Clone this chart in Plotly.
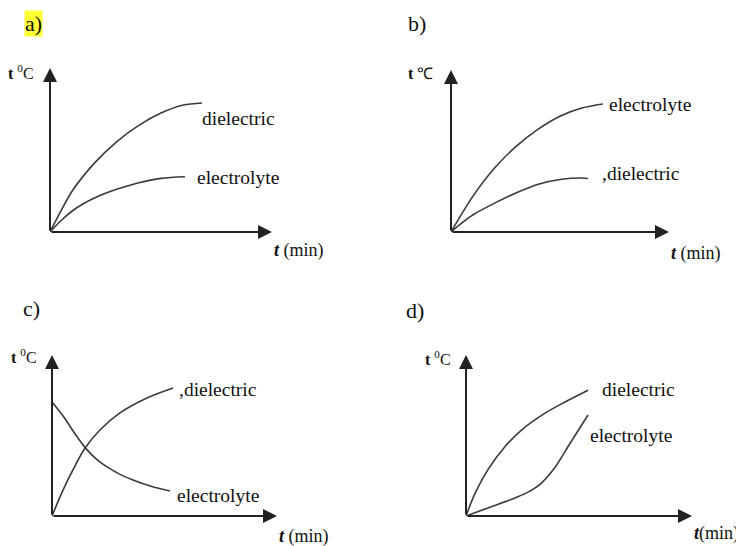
import plotly.graph_objects as go

# curves, time (min) vs temperature, arbitrary units 0..10
a_diel_t = [0, 0.5, 1, 2, 3, 4, 5, 6, 6.85]
a_diel_T = [0, 1.3, 2.5, 4.2, 5.5, 6.5, 7.25, 7.74, 7.87]
a_elec_t = [0, 0.5, 1, 1.5, 2, 2.5, 3, 4, 5, 6.08]
a_elec_T = [0, 0.7, 1.28, 1.72, 2.07, 2.36, 2.6, 3.0, 3.27, 3.37]

b_elec_t = [0, 1, 2, 3, 4, 5, 6, 6.97]
b_elec_T = [0, 2.2, 3.95, 5.3, 6.35, 7.15, 7.65, 7.9]
b_diel_t = [0, 0.5, 1, 2, 3, 4, 5, 6, 6.28]
b_diel_T = [0, 0.56, 1.05, 1.78, 2.42, 2.95, 3.24, 3.33, 3.3]

c_elec_t = [0, 0.5, 1, 1.5, 2, 2.5, 3, 3.6, 4.4, 5.24]
c_elec_T = [7.08, 6.2, 5.15, 4.2, 3.5, 3.0, 2.6, 2.24, 1.85, 1.55]
c_diel_t = [0, 0.49, 0.93, 1.47, 2.13, 3.02, 4.22, 5.38]
c_diel_T = [0, 1.61, 2.86, 4.22, 5.34, 6.4, 7.33, 7.95]

d_diel_t = [0, 0.4, 0.97, 1.73, 2.48, 3.5, 4.38, 5.4]
d_diel_T = [0, 1.4, 2.88, 4.32, 5.37, 6.39, 7.08, 7.81]
d_elec_t = [0, 1, 2, 2.7, 3.3, 3.9, 4.6, 5.4]
d_elec_T = [0, 0.52, 1.03, 1.45, 2.0, 2.95, 4.5, 6.27]

OFF = 8  # page body margin
W, H = 744 - OFF, 546 - OFF
SERIF = "Liberation Serif"
INK = "#222"


def px(x):
    return (x - OFF) / W


def py(y):
    return 1 - (y - OFF) / H


# origin and arrow tips of each panel, in window pixels
panels = [
    dict(o=(50, 232), tx=272, ty=68, letter="a)", lpos=(34, 23), hl=True, ylab="<b>t</b> <sup>0</sup>C",
         curves=[(a_diel_t, a_diel_T), (a_elec_t, a_elec_T)],
         labels=[("dielectric", 6.76, 6.95), ("electrolyte", 6.53, 3.35)],
         ylabpos=(36, 72), tmin_y=250, tmin="<b><i>t</i></b> (min)"),
    dict(o=(451, 232), tx=669, ty=70, letter="b)", lpos=(417, 23), hl=False, ylab="<b>t</b> ℃",
         curves=[(b_elec_t, b_elec_T), (b_diel_t, b_diel_T)],
         labels=[("electrolyte", 7.16, 7.9), (",dielectric", 6.83, 3.64)],
         ylabpos=(435, 73), tmin_y=253, tmin="<b><i>t</i></b> (min)"),
    dict(o=(52, 516), tx=277, ty=355, letter="c)", lpos=(31, 308), hl=False, ylab="<b>t</b> <sup>0</sup>C",
         curves=[(c_elec_t, c_elec_T), (c_diel_t, c_diel_T)],
         labels=[(",dielectric", 5.56, 7.83), ("electrolyte", 5.47, 1.3)],
         ylabpos=(39, 356), tmin_y=536, tmin="<b><i>t</i></b> (min)"),
    dict(o=(466, 516), tx=692, ty=355, letter="d)", lpos=(415, 310), hl=False, ylab="<b>t</b> <sup>0</sup>C",
         curves=[(d_diel_t, d_diel_T), (d_elec_t, d_elec_T)],
         labels=[("dielectric", 5.93, 7.83), ("electrolyte", 5.4, 4.97)],
         ylabpos=(453, 358), tmin_y=533, tmin="<b><i>t</i></b>(min)"),
]

fig = go.Figure()
annotations = []
layout = {}

for i, p in enumerate(panels):
    n = "" if i == 0 else str(i + 1)
    xa, ya = "x" + n, "y" + n
    ox, oy = p["o"]
    layout["xaxis" + n] = dict(domain=[px(ox), px(p["tx"])], range=[0, 10], visible=False, anchor=ya)
    layout["yaxis" + n] = dict(domain=[py(oy), py(p["ty"])], range=[0, 10], visible=False, anchor=xa)

    for t, T in p["curves"]:
        fig.add_trace(go.Scatter(x=t, y=T, mode="lines",
                                 line=dict(color="#3a3a3a", width=1.6, shape="spline", smoothing=0.9),
                                 xaxis=xa, yaxis=ya, showlegend=False, hoverinfo="skip"))

    # axes drawn as arrows from the origin
    for tip in [(0, 10), (10, 0)]:
        annotations.append(dict(x=tip[0], y=tip[1], ax=0, ay=0, xref=xa, yref=ya, axref=xa, ayref=ya,
                                text="", showarrow=True, arrowhead=2, arrowsize=1.4, arrowwidth=2,
                                arrowcolor=INK))

    for txt, lx, ly in p["labels"]:
        annotations.append(dict(x=lx, y=ly, xref=xa, yref=ya, text=txt, showarrow=False,
                                xanchor="left", yanchor="middle",
                                font=dict(family=SERIF, size=19.5, color="#111")))

    annotations.append(dict(x=px(p["ylabpos"][0]), y=py(p["ylabpos"][1]), xref="paper", yref="paper",
                            text=p["ylab"], showarrow=False, xanchor="right", yanchor="middle",
                            font=dict(family=SERIF, size=16, color="#111")))
    annotations.append(dict(x=px(p["tx"]), y=py(p["tmin_y"]), xref="paper", yref="paper",
                            text=p["tmin"], showarrow=False, xanchor="left", yanchor="middle",
                            font=dict(family=SERIF, size=18, color="#111")))

    lx, ly = p["lpos"]
    annotations.append(dict(x=px(lx), y=py(ly), xref="paper", yref="paper", text=p["letter"],
                            showarrow=False, xanchor="center", yanchor="middle",
                            font=dict(family=SERIF, size=22, color="#111"),
                            bgcolor="#ffff33" if p["hl"] else None, borderpad=0))

fig.update_layout(
    width=W, height=H,
    margin=dict(l=0, r=0, t=0, b=0),
    paper_bgcolor="white", plot_bgcolor="white",
    annotations=annotations,
    **layout,
)

fig.write_html("out.html")
